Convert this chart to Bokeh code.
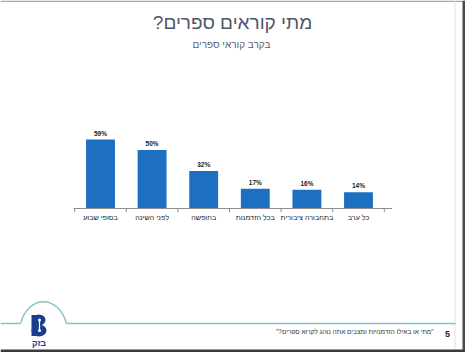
from bokeh.plotting import figure
from bokeh.models import Range1d, Label, ColumnDataSource
from bokeh.embed import file_html
from bokeh.resources import INLINE
from bokeh.core.properties import value

RLM = "\u200f"

# ---- data ----
categories = ["בסופי שבוע", "לפני השינה", "בחופשה", "בכל הזדמנות", "בתחבורה ציבורית", "כל ערב"]
percent = [59, 50, 32, 17, 16, 14]
value_labels = [f"{v}%" for v in percent]
title_text = "מתי קוראים ספרים?" + RLM
subtitle_text = "בקרב קוראי ספרים"
footnote_text = RLM + "\u201dמתי או באילו הזדמנויות ומצבים אתה נוהג לקרוא ספרים?\u201d" + RLM
page_number = "5"
logo_text = "בזק"

# ---- layout ----
W, H = 465, 352
first_center_px = 100.0     # pixel x of first bar centre
slot_px = 51.6              # pixels per category
baseline_px = 144.0         # baseline height from bottom in pixels
px_per_pct = 1.169          # pixels per percent

FONT = "Liberation Sans"
BAR_COLOR = "#1d6fc2"

p = figure(width=W, height=H,
           x_range=Range1d(-first_center_px / slot_px, (W - first_center_px) / slot_px),
           y_range=Range1d(-baseline_px / px_per_pct, (H - baseline_px) / px_per_pct),
           output_backend="svg", toolbar_location=None, min_border=0,
           background_fill_color="white", border_fill_color="white")
p.axis.visible = False
p.xgrid.visible = False
p.ygrid.visible = False
p.outline_line_color = None

# pixel-space range for decorations (y measured from top)
p.extra_x_ranges = {"px": Range1d(0, W)}
p.extra_y_ranges = {"px": Range1d(H, 0)}

idx = list(range(len(categories)))
src = ColumnDataSource(dict(x=idx, top=percent, cat=categories, lab=value_labels))

# bars
p.vbar(x="x", top="top", bottom=0, width=0.56, source=src,
       fill_color=BAR_COLOR, line_color=None)

# baseline axis and ticks
n = len(categories)
p.segment(x0=[-0.52], y0=[0], x1=[n - 0.35], y1=[0], line_color="#8c8c8c", line_width=1)
ticks = [i - 0.5 for i in range(n + 1)]
p.segment(x0=ticks, y0=[0] * len(ticks), x1=ticks, y1=[-3.2] * len(ticks),
          line_color="#8c8c8c", line_width=1)

# value labels
p.text(x="x", y="top", text="lab", source=src, text_align="center",
       text_baseline="bottom", y_offset=-3, text_font=value(FONT),
       text_font_size="6.5px", text_font_style="bold", text_color="#1a1a1a")

# category labels
p.text(x="x", y=0, text="cat", source=src, text_align="center",
       text_baseline="top", y_offset=4, text_font=value(FONT),
       text_font_size="7.2px", text_color="#1a1a1a")

# ---- decorations in pixel space ----
p.quad(left=[0], right=[W], top=[0], bottom=[1.5], fill_color="#a8a8a8", line_color=None,
       x_range_name="px", y_range_name="px")
p.quad(left=[454], right=[455], top=[0], bottom=[349], fill_color="#e2e2e2", line_color=None,
       x_range_name="px", y_range_name="px")
p.quad(left=[462], right=[W], top=[0], bottom=[H], fill_color="#4a4a4a", line_color=None,
       x_range_name="px", y_range_name="px")
p.quad(left=[0], right=[W], top=[349], bottom=[H], fill_color="#3a3a3a", line_color=None,
       x_range_name="px", y_range_name="px")

# teal footer line with arch
TEAL = "#86c3c7"
p.segment(x0=[0, 66], y0=[323, 323], x1=[20, 455], y1=[323, 323], line_color=TEAL,
          line_width=1.5, x_range_name="px", y_range_name="px")
p.bezier(x0=[20], y0=[323], x1=[66], y1=[323], cx0=[28], cy0=[294], cx1=[58], cy1=[294],
         line_color=TEAL, line_width=1.5, x_range_name="px", y_range_name="px")

# logo: stylised B
LOGO = "#1b3c8e"
p.ellipse(x=[38.5, 38.5], y=[319.5, 330], width=[13, 15], height=[11, 12],
          fill_color=LOGO, line_color=None, x_range_name="px", y_range_name="px")
p.quad(left=[31], right=[37], top=[314.5], bottom=[335.5], fill_color=LOGO, line_color=None,
       x_range_name="px", y_range_name="px")
p.ellipse(x=[39, 39], y=[319.5, 330], width=[3, 3], height=[3, 3],
          fill_color="white", line_color=None, x_range_name="px", y_range_name="px")
p.segment(x0=[39], y0=[320], x1=[39], y1=[329.5], line_color="white", line_width=1.2,
          x_range_name="px", y_range_name="px")

# ---- texts ----
p.add_layout(Label(x=232, y=H - 22, x_units="screen", y_units="screen", text=title_text,
                   text_align="center", text_baseline="middle", text_font=FONT,
                   text_font_size="19px", text_color="#4f566b"))
p.add_layout(Label(x=231, y=H - 44, x_units="screen", y_units="screen", text=subtitle_text,
                   text_align="center", text_baseline="middle", text_font=FONT,
                   text_font_size="10px", text_color="#5b6072"))
p.add_layout(Label(x=433, y=H - 331, x_units="screen", y_units="screen", text=footnote_text,
                   text_align="right", text_baseline="middle", text_font=FONT,
                   text_font_size="6.5px", text_color="#333333"))
p.add_layout(Label(x=447, y=H - 333, x_units="screen", y_units="screen", text=page_number,
                   text_align="center", text_baseline="middle", text_font=FONT,
                   text_font_size="9px", text_font_style="bold", text_color="#222222"))
p.add_layout(Label(x=38.5, y=H - 342, x_units="screen", y_units="screen", text=logo_text,
                   text_align="center", text_baseline="middle", text_font=FONT,
                   text_font_size="8.5px", text_font_style="bold", text_color=LOGO))

open("out.html", "w").write(file_html(p, INLINE))
